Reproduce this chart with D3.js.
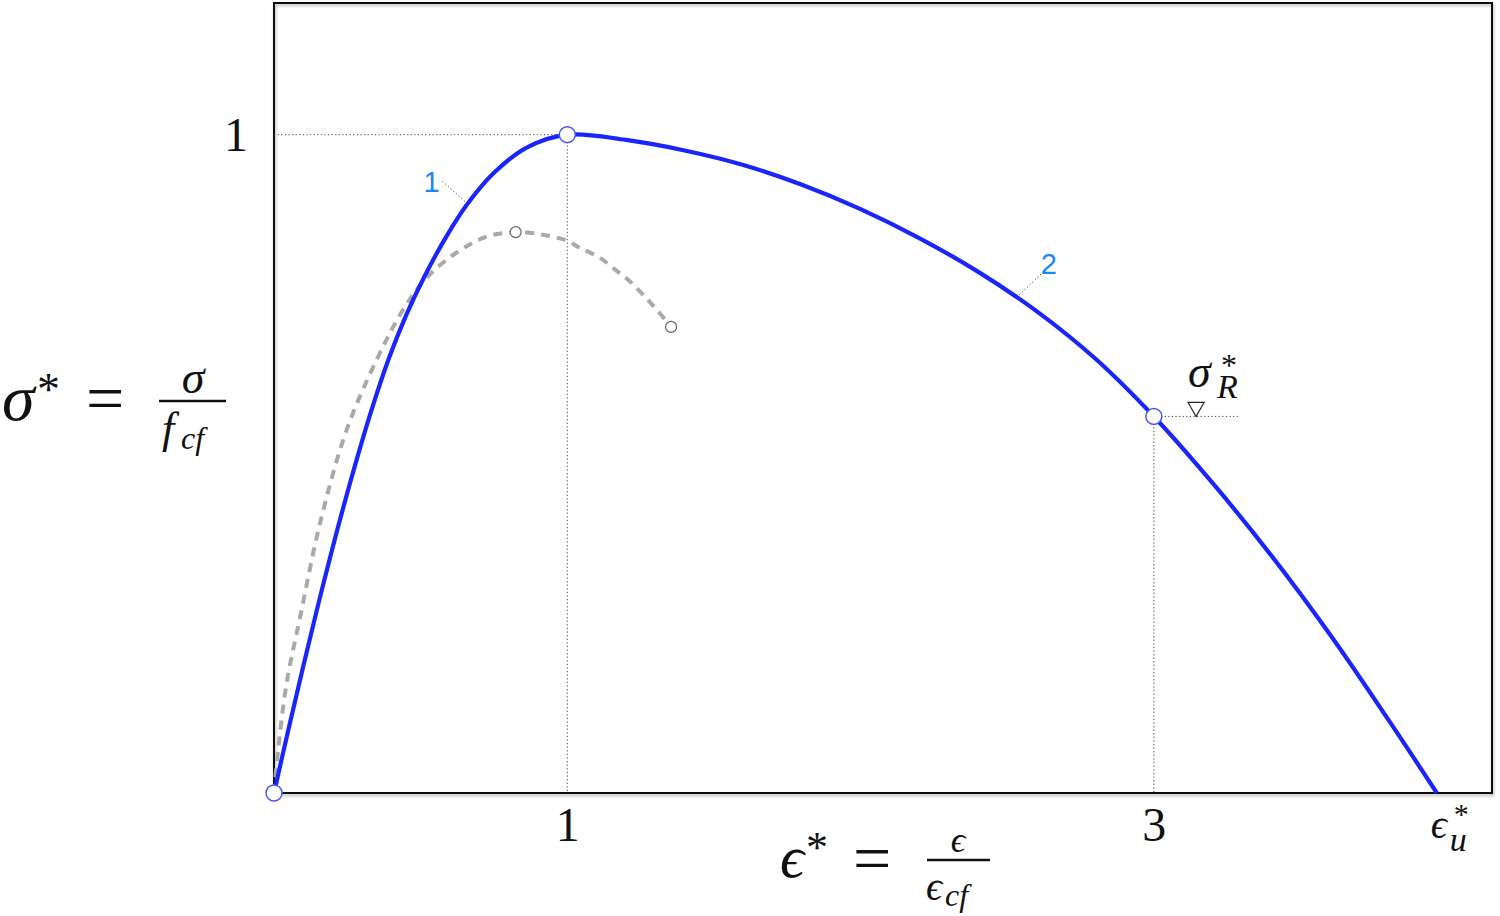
<!DOCTYPE html>
<html>
<head>
<meta charset="utf-8">
<script src="https://cdn.jsdelivr.net/npm/d3@7"></script>
<style>
  body { margin: 0; background: #fff; }
  svg { display: block; }
  .math { font-family: 'Liberation Serif', 'DejaVu Serif', serif; fill: #111; }
  .it { font-style: italic; }
  .callout { font-family: 'Liberation Sans', Arial, sans-serif; fill: #1a86f5; }
  .guide { stroke: #444; stroke-width: 1; stroke-dasharray: 1.2,2.4; fill: none; }
</style>
</head>
<body>
<svg id="chart" width="1500" height="916"></svg>
<script>
// normalised strain / stress
var branch1 = [[0,0],[0.05,0.098],[0.1,0.193],[0.15,0.285],[0.2,0.373],[0.26,0.472],[0.33,0.578],
    [0.39,0.658],[0.45,0.725],[0.51,0.782],[0.59,0.847],[0.66,0.895],[0.75,0.942],[0.86,0.980],[1,1]];
var branch2 = [[1,1],[1.2,0.992],[1.4,0.976],[1.6,0.954],[1.8,0.924],[2.0,0.887],[2.2,0.843],
    [2.4,0.792],[2.6,0.732],[2.8,0.660],[3.0,0.572],[3.2,0.471],[3.4,0.361],[3.6,0.241],
    [3.8,0.111],[3.965,0]];
var dashedCurve = [[0,0],[0.014,0.065],[0.043,0.167],[0.089,0.267],[0.157,0.41],[0.248,0.552],[0.35,0.658],
    [0.44,0.734],[0.521,0.783],[0.623,0.821],[0.725,0.845],[0.824,0.852],[0.917,0.848],[0.998,0.839],
    [1.043,0.828],[1.111,0.813],[1.163,0.795],[1.214,0.777],[1.258,0.757],[1.305,0.734],[1.354,0.708]];
var keyPoints = [[0,0],[1,1],[3,0.572]];
var dashedMarks = [[0.824,0.852],[1.354,0.708]];
var epsU = 3.965;
var sigmaR = 0.572;
var xTickValues = [1, 3];
var yTickValues = [1];
var callouts = [
    {label: '1', at: [0.66, 0.895], end: [0.572, 0.93], text: [0.537, 0.913]},
    {label: '2', at: [2.532, 0.753], end: [2.617, 0.789], text: [2.642, 0.789]}
];

function drawChart() {
    var svg = d3.select('#chart');
    var plotLeft = 274, plotRight = 1492, plotTop = 3, plotBottom = 793;

    var x = d3.scaleLinear().domain([0, 4.153]).range([plotLeft, plotRight]);
    var y = d3.scaleLinear().domain([0, 1.2]).range([plotBottom, plotTop]);

    var defs = svg.append('defs');
    var shadow = defs.append('filter').attr('id', 'shadow')
        .attr('x', '-5%').attr('y', '-5%').attr('width', '110%').attr('height', '110%');
    shadow.append('feDropShadow').attr('dx', 1).attr('dy', 2).attr('stdDeviation', 1.5)
        .attr('flood-color', '#000').attr('flood-opacity', 0.3);

    svg.append('rect')
        .attr('x', plotLeft).attr('y', plotTop)
        .attr('width', plotRight - plotLeft).attr('height', plotBottom - plotTop)
        .attr('fill', 'none').attr('stroke', '#111').attr('stroke-width', 2)
        .attr('filter', 'url(#shadow)');

    // guides
    svg.append('line').attr('class', 'guide')
        .attr('x1', x(0)).attr('x2', x(1)).attr('y1', y(1)).attr('y2', y(1));
    svg.append('line').attr('class', 'guide')
        .attr('x1', x(1)).attr('x2', x(1)).attr('y1', y(1)).attr('y2', y(0));
    svg.append('line').attr('class', 'guide')
        .attr('x1', x(3)).attr('x2', x(3)).attr('y1', y(sigmaR)).attr('y2', y(0));
    svg.append('line').attr('class', 'guide')
        .attr('x1', x(3)).attr('x2', x(3.287)).attr('y1', y(sigmaR)).attr('y2', y(sigmaR));

    // triangle marker under sigma_R
    var tx = x(3.144), ty = y(sigmaR);
    svg.append('path')
        .attr('d', 'M' + (tx - 8) + ',' + (ty - 14) + 'L' + (tx + 8) + ',' + (ty - 14) + 'L' + tx + ',' + ty + 'Z')
        .attr('fill', '#fff').attr('stroke', '#222').attr('stroke-width', 1.2);

    var line = d3.line()
        .x(function(d) { return x(d[0]); })
        .y(function(d) { return y(d[1]); })
        .curve(d3.curveCatmullRom.alpha(0.5));

    svg.append('path').datum(dashedCurve)
        .attr('d', line)
        .attr('fill', 'none').attr('stroke', '#a9a9a9').attr('stroke-width', 4)
        .attr('stroke-dasharray', '9,7');

    svg.append('path').datum(branch1.concat(branch2.slice(1)))
        .attr('d', line)
        .attr('fill', 'none').attr('stroke', '#1a25fa').attr('stroke-width', 4.2);

    svg.selectAll('circle.dmark').data(dashedMarks).enter().append('circle')
        .attr('class', 'dmark')
        .attr('cx', function(d) { return x(d[0]); })
        .attr('cy', function(d) { return y(d[1]); })
        .attr('r', 5.5).attr('fill', '#fff').attr('stroke', '#666').attr('stroke-width', 1.2);

    svg.selectAll('circle.kmark').data(keyPoints).enter().append('circle')
        .attr('class', 'kmark')
        .attr('cx', function(d) { return x(d[0]); })
        .attr('cy', function(d) { return y(d[1]); })
        .attr('r', 8).attr('fill', '#fff').attr('stroke', '#4a55f0').attr('stroke-width', 1.5);

    // callouts
    callouts.forEach(function(c) {
        svg.append('line').attr('class', 'guide')
            .attr('x1', x(c.at[0])).attr('y1', y(c.at[1]))
            .attr('x2', x(c.end[0])).attr('y2', y(c.end[1]));
        svg.append('text').attr('class', 'callout')
            .attr('x', x(c.text[0])).attr('y', y(c.text[1])).attr('text-anchor', 'middle')
            .attr('font-size', 29).text(c.label);
    });

    // axes
    var xAxis = d3.axisBottom(x).tickValues(xTickValues).tickSize(0).tickPadding(14).tickFormat(d3.format('d'));
    var yAxis = d3.axisLeft(y).tickValues(yTickValues).tickSize(0).tickPadding(26).tickFormat(d3.format('d'));

    var gx = svg.append('g').attr('transform', 'translate(0,' + plotBottom + ')').call(xAxis);
    var gy = svg.append('g').attr('transform', 'translate(' + plotLeft + ',0)').call(yAxis);
    [gx, gy].forEach(function(g) {
        g.select('.domain').remove();
        g.selectAll('text').attr('class', 'math').attr('font-size', 48).attr('fill', '#111');
    });

    // epsilon_u* tick label
    var ex = x(epsU);
    svg.append('text').attr('class', 'math it').attr('x', ex - 6).attr('y', 838).attr('font-size', 40).text('ϵ');
    svg.append('text').attr('class', 'math').attr('x', ex + 17).attr('y', 824).attr('font-size', 30).text('*');
    svg.append('text').attr('class', 'math it').attr('x', ex + 13).attr('y', 851).attr('font-size', 34).text('u');

    // sigma_R* label
    svg.append('text').attr('class', 'math it').attr('x', 1188).attr('y', 387).attr('font-size', 46).text('σ');
    svg.append('text').attr('class', 'math').attr('x', 1221).attr('y', 376).attr('font-size', 32).text('*');
    svg.append('text').attr('class', 'math it').attr('x', 1217).attr('y', 398).attr('font-size', 34).text('R');

    // y title: sigma* = sigma / f_cf
    svg.append('text').attr('class', 'math it').attr('x', 2).attr('y', 420).attr('font-size', 66).text('σ');
    svg.append('text').attr('class', 'math').attr('x', 37).attr('y', 405).attr('font-size', 46).text('*');
    svg.append('text').attr('class', 'math').attr('x', 86).attr('y', 421).attr('font-size', 68).text('=');
    svg.append('line').attr('x1', 159).attr('x2', 226).attr('y1', 401).attr('y2', 401)
        .attr('stroke', '#111').attr('stroke-width', 2.5);
    svg.append('text').attr('class', 'math it').attr('x', 193).attr('y', 393)
        .attr('text-anchor', 'middle').attr('font-size', 46).text('σ');
    svg.append('text').attr('class', 'math it').attr('x', 162).attr('y', 443).attr('font-size', 44).text('f');
    svg.append('text').attr('class', 'math it').attr('x', 181).attr('y', 449).attr('font-size', 32).text('cf');

    // x title: eps* = eps / eps_cf
    svg.append('text').attr('class', 'math it').attr('x', 780).attr('y', 877).attr('font-size', 60).text('ϵ');
    svg.append('text').attr('class', 'math').attr('x', 806).attr('y', 862).attr('font-size', 44).text('*');
    svg.append('text').attr('class', 'math').attr('x', 853).attr('y', 881).attr('font-size', 68).text('=');
    svg.append('line').attr('x1', 927).attr('x2', 990).attr('y1', 860).attr('y2', 860)
        .attr('stroke', '#111').attr('stroke-width', 2.5);
    svg.append('text').attr('class', 'math it').attr('x', 958).attr('y', 852)
        .attr('text-anchor', 'middle').attr('font-size', 36).text('ϵ');
    svg.append('text').attr('class', 'math it').attr('x', 926).attr('y', 900).attr('font-size', 40).text('ϵ');
    svg.append('text').attr('class', 'math it').attr('x', 945).attr('y', 906).attr('font-size', 32).text('cf');
}

drawChart();
</script>
</body>
</html>
